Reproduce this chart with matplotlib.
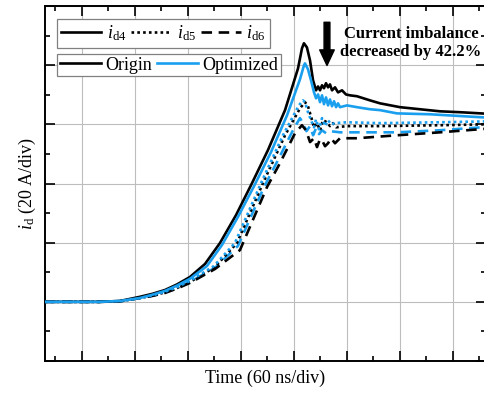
import matplotlib

matplotlib.use("Agg")
import matplotlib.pyplot as plt
from matplotlib.lines import Line2D
from matplotlib.ticker import MultipleLocator

plt.rcParams["font.family"] = ["Liberation Serif", "DejaVu Serif"]
plt.rcParams["mathtext.fontset"] = "custom"
plt.rcParams["mathtext.rm"] = "Liberation Serif"
plt.rcParams["mathtext.it"] = "Liberation Serif:italic"

BLUE = "#1a9fef"

# time in ns, current in A
t_d4_org = [-41.5, 20.7, 43.5, 66.0, 80.0, 94.3, 108.0, 122.6, 139.6, 156.6, 174.7, 192.8,
            210.9, 230.2, 244.9, 249.4, 251.6, 255.0, 258.5, 261.9, 265.3, 267.6, 269.8,
            272.1, 274.3, 276.6, 278.9, 281.1, 283.4, 286.8, 290.2, 294.7, 299.2, 303.8,
            311.6, 326.4, 337.7, 360.3, 382.9, 405.6, 428.2, 457.7]
i_d4_org = [0.0, 0.0, 0.3, 1.7, 2.7, 4.0, 5.9, 8.4, 12.8, 19.9, 29.3, 40.1,
            51.3, 64.8, 78.9, 85.7, 87.4, 86.0, 81.6, 74.9, 71.5, 72.8, 71.5,
            73.2, 72.2, 73.9, 72.5, 73.5, 71.5, 72.5, 70.8, 71.5, 70.1, 69.8,
            69.5, 68.1, 67.1, 65.8, 65.1, 64.4, 64.1, 63.6]

t_d4_opt = [-41.5, 20.7, 43.5, 66.0, 80.0, 94.3, 108.0, 122.6, 141.8, 158.8, 176.9, 195.1,
            214.3, 232.4, 247.1, 251.6, 252.8, 256.2, 259.6, 263.0, 265.3, 267.6, 269.8,
            272.1, 274.3, 276.6, 278.9, 281.1, 283.4, 285.7, 288.0, 290.2, 292.4, 300.3,
            311.6, 326.4, 337.7, 356.9, 394.3, 457.7]
i_d4_opt = [0.0, 0.0, 0.3, 1.3, 2.4, 3.7, 5.5, 7.8, 12.1, 19.2, 28.7, 39.1,
            50.6, 63.0, 75.2, 79.9, 80.6, 78.6, 74.9, 70.8, 68.8, 70.1, 67.5,
            69.8, 66.8, 69.1, 66.4, 68.4, 66.1, 67.8, 65.8, 67.1, 65.8, 66.4,
            65.8, 65.1, 64.8, 63.7, 63.4, 62.3]

t_d5_org = [-41.5, 20.7, 43.5, 66.0, 80.0, 94.3, 108.0, 122.6, 150.9, 175.8, 205.2, 230.2,
            247.1, 252.8, 256.2, 260.8, 263.0, 266.4, 269.8, 273.2, 277.7, 281.1, 284.5,
            288.0, 300.3, 337.7, 405.6, 457.7]
i_d5_org = [0.0, 0.0, 0.2, 1.3, 2.1, 3.2, 4.7, 6.7, 11.8, 19.9, 40.1, 56.3,
            65.4, 67.5, 66.1, 61.4, 59.0, 60.4, 58.0, 61.4, 60.7, 59.4, 60.4,
            59.0, 59.4, 59.4, 59.7, 60.0]

t_d5_opt = [-41.5, 20.7, 43.5, 66.0, 80.0, 94.3, 108.0, 122.6, 149.7, 173.5, 203.0, 227.9,
            245.9, 250.5, 252.8, 256.2, 259.6, 263.0, 265.3, 268.7, 272.1, 275.5, 278.9,
            282.3, 286.8, 300.3, 337.7, 405.6, 457.7]
i_d5_opt = [0.0, 0.0, 0.2, 1.3, 2.2, 3.4, 5.0, 7.1, 12.1, 19.9, 40.1, 56.3,
            66.4, 68.1, 67.5, 64.1, 61.4, 59.0, 61.7, 58.3, 62.1, 59.4, 61.4,
            60.0, 60.4, 60.7, 60.4, 60.7, 61.0]

t_d6_org = [-41.5, 20.7, 43.5, 66.0, 80.0, 94.3, 108.0, 122.6, 150.9, 179.2, 209.8, 224.5,
            241.5, 249.4, 253.9, 258.5, 263.0, 266.4, 269.8, 272.1, 275.5, 278.9, 282.3,
            286.8, 292.4, 311.6, 356.9, 405.6, 457.7]
i_d6_org = [0.0, 0.0, 0.2, 1.3, 2.0, 3.0, 4.5, 6.4, 11.1, 17.5, 38.8, 46.9,
            57.0, 59.7, 58.0, 54.0, 55.3, 52.3, 55.0, 54.6, 52.6, 53.6, 55.3,
            53.6, 55.3, 55.3, 56.3, 57.3, 58.5]

t_d6_opt = [-41.5, 20.7, 43.5, 66.0, 80.0, 94.3, 108.0, 122.6, 150.9, 176.9, 206.4, 222.2,
            239.2, 247.1, 250.5, 254.5, 258.5, 262.0, 265.3, 268.7, 272.1, 276.6, 281.1,
            292.4, 311.6, 356.9, 405.6, 457.7]
i_d6_opt = [0.0, 0.0, 0.2, 1.3, 2.1, 3.2, 4.8, 6.7, 11.5, 18.9, 38.8, 47.9,
            58.0, 62.1, 60.4, 57.7, 59.4, 56.3, 58.7, 56.7, 58.0, 57.0, 57.7,
            57.3, 57.3, 57.3, 58.0, 59.1]

fig = plt.figure(figsize=(4.84, 3.94), dpi=100)
ax = fig.add_axes([45 / 484, 33 / 394, 441 / 484, 355 / 394])

lw = 1.9
dash = (0, (4, 2.5))
dot = (0, (1, 1.2))
ax.plot(t_d6_opt, i_d6_opt, color=BLUE, lw=lw, ls=dash, zorder=3)
ax.plot(t_d6_org, i_d6_org, color="k", lw=lw, ls=dash, zorder=3)
ax.plot(t_d5_org, i_d5_org, color="k", lw=lw, ls=dot, zorder=4)
ax.plot(t_d5_opt, i_d5_opt, color=BLUE, lw=lw, ls=dot, zorder=4)
ax.plot(t_d4_org, i_d4_org, color="k", lw=lw, zorder=5)
ax.plot(t_d4_opt, i_d4_opt, color=BLUE, lw=lw, zorder=6)

ax.set_xlim(-41.5, 457.7)
ax.set_ylim(-20, 100)
ax.xaxis.set_major_locator(MultipleLocator(60))
ax.xaxis.set_minor_locator(MultipleLocator(30))
ax.yaxis.set_major_locator(MultipleLocator(20))
ax.yaxis.set_minor_locator(MultipleLocator(10))
ax.grid(True, which="major", color="#bdbdbd", lw=0.8)
ax.set_axisbelow(True)
ax.tick_params(which="both", direction="in", top=True, right=True,
               labelbottom=False, labelleft=False, width=1.2)
ax.tick_params(which="major", length=7)
ax.tick_params(which="minor", length=3.5)
for s in ax.spines.values():
    s.set_linewidth(1.4)

ax.set_xlabel("Time (60 ns/div)", fontsize=13, labelpad=6)
ax.set_ylabel(r"$i_{\rm d}$ (20 A/div)", fontsize=13, labelpad=5)

h1 = [Line2D([], [], color="k", lw=lw),
      Line2D([], [], color="k", lw=lw, ls=dot),
      Line2D([], [], color="k", lw=lw, ls=dash)]
leg1 = ax.legend(h1, [r"$i_{\rm d4}$", r"$i_{\rm d5}$", r"$i_{\rm d6}$"], ncol=3,
                 loc="upper left", bbox_to_anchor=(0.027, 0.963), borderaxespad=0,
                 fontsize=13, handlelength=2.2, handletextpad=0.3, columnspacing=0.3,
                 fancybox=False, edgecolor="#808080", framealpha=1,
                 borderpad=0.25)
leg1.get_frame().set_linewidth(0.9)
ax.add_artist(leg1)

h2 = [Line2D([], [], color="k", lw=lw), Line2D([], [], color=BLUE, lw=lw)]
leg2 = ax.legend(h2, ["Origin", "Optimized"], ncol=2,
                 loc="upper left", bbox_to_anchor=(0.027, 0.865), borderaxespad=0,
                 fontsize=13, handlelength=2.3, handletextpad=0.2, columnspacing=0.3,
                 fancybox=False, edgecolor="#808080", framealpha=1,
                 borderpad=0.15)
leg2.get_frame().set_linewidth(0.9)

ax.annotate("", xy=(277.7, 79.9), xytext=(277.7, 94.5),
            arrowprops=dict(arrowstyle="simple, head_width=0.75, head_length=0.8, tail_width=0.3",
                            mutation_scale=14, color="k", shrinkA=0, shrinkB=0))
ax.text(372.8, 87.4, "Current imbalance\ndecreased by 42.2%", fontsize=12,
        fontweight="bold", ha="center", va="center", multialignment="center",
        linespacing=1.15, clip_on=False)

fig.savefig("out.png", dpi=100)
